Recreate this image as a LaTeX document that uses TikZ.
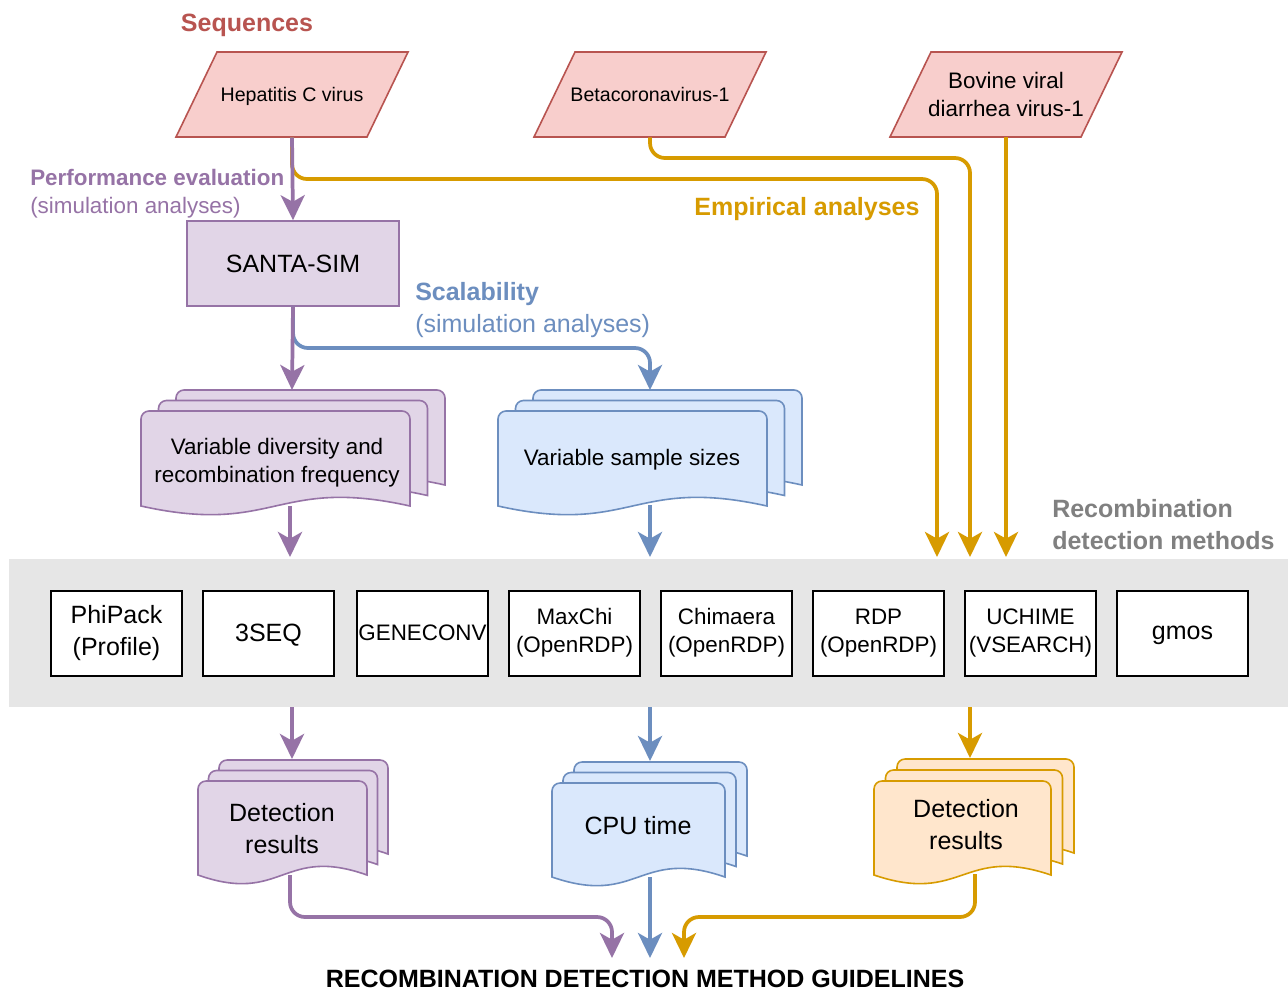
\documentclass[tikz,border=0pt]{standalone}
\usepackage{fontspec}
\setmainfont{Liberation Sans}
\usetikzlibrary{arrows.meta}
\definecolor{pinkF}{HTML}{F8CECC}
\definecolor{pinkD}{HTML}{B85450}
\definecolor{purpF}{HTML}{E1D5E7}
\definecolor{purpD}{HTML}{9673A6}
\definecolor{blueF}{HTML}{DAE8FC}
\definecolor{blueD}{HTML}{6C8EBF}
\definecolor{oranF}{HTML}{FFE6CC}
\definecolor{oranD}{HTML}{D79B00}
\definecolor{bandG}{HTML}{E6E6E6}
\definecolor{textG}{HTML}{808080}
\newcommand\myL{\fontsize{18.75pt}{24pt}\selectfont}
\newcommand\myM{\fontsize{16.8pt}{21pt}\selectfont}
\newcommand\myS{\fontsize{14.7pt}{21pt}\selectfont}
% one page of a multi-document: style, x, y, w, h
\newcommand\docpage[5]{\path[#1] (#2,#3+#5) -- (#2,#3+8) arc[start angle=180,end angle=270,radius=8] -- (#2+#4-8,#3) arc[start angle=270,end angle=360,radius=8] -- (#2+#4,#3+#5) .. controls (#2+0.5*#4,#3+#5-30) and (#2+0.5*#4,#3+#5+30) .. (#2,#3+#5) -- cycle;}
\newcommand\multidoc[7]{%
  \docpage{#1}{#2+2*#6}{#3-2*#7}{#4}{#5}%
  \docpage{#1}{#2+#6}{#3-#7}{#4}{#5}%
  \docpage{#1}{#2}{#3}{#4}{#5}}
\newcommand\para[2]{\path[#1] (#2-116,137) -- (#2+75,137) -- (#2+116,52) -- (#2-75,52) -- cycle;}
\begin{document}
\begin{tikzpicture}[x=0.75pt,y=-0.75pt,
  txt/.style={inner sep=0pt, align=center, text=black},
  partxt/.style={txt, minimum width=110pt, minimum height=63.75pt},
  parashape/.style={draw=pinkD, fill=pinkF, line width=1.2pt},
  purpledoc/.style={draw=purpD, fill=purpF, line width=1.2pt},
  bluedoc/.style={draw=blueD, fill=blueF, line width=1.2pt},
  orangedoc/.style={draw=oranD, fill=oranF, line width=1.2pt},
  methodbox/.style={draw=black, fill=white, line width=1.5pt, minimum width=98.25pt, minimum height=63.75pt, inner sep=0pt, align=center, font=\myM},
  arr/.style={line width=2.8pt, line join=round, -{Stealth[length=18.75pt,width=18pt,inset=5pt]}},
  corner/.style={rounded corners=11.25pt},
  lbl/.style={inner sep=0pt, anchor=base west},
]
\useasboundingbox (0,0) rectangle (1288,990);
\fill[white] (0,0) rectangle (1288,990);

% band
\node[fill=bandG, inner sep=0pt, minimum width=959.25pt, minimum height=111pt, anchor=north west] (band) at (9,559) {};

% sequences
\para{parashape}{292}
\para{parashape}{650}
\para{parashape}{1006}
\node[partxt, font=\myS, text depth=0pt] (hcv) at (292,94.5) {Hepatitis C virus};
\node[partxt, font=\myS] (beta) at (650,94.5) {Betacoronavirus-1};
\node[partxt, font=\myM] (bov) at (1006,94.5) {Bovine viral\\diarrhea virus-1};

% SANTA-SIM
\node[draw=purpD, fill=purpF, line width=1.2pt, minimum width=159pt, minimum height=63.75pt, font=\myL] (santa) at (293,263.5) {SANTA-SIM};

% documents
\multidoc{purpledoc}{141}{411}{269}{95}{17.5}{10.5}
\multidoc{bluedoc}{498}{411}{269}{95}{17.5}{10.5}
\multidoc{purpledoc}{198}{781}{169}{94}{10.5}{10.5}
\multidoc{bluedoc}{552}{783}{173}{94}{11}{10.5}
\multidoc{orangedoc}{874}{781}{177}{94}{11.5}{11}
\node[txt, font=\myM] (vd) at (277,463) {Variable diversity and\\recombination frequency};
\node[txt, font=\myM] (vs) at (632,460) {Variable sample sizes};
\node[txt, font=\myL] (dr1) at (282,829) {Detection\\results};
\node[txt, font=\myL] (cpu) at (638,826) {CPU time};
\node[txt, font=\myL] (dr2) at (966,825) {Detection\\results};

% methods
\node[methodbox, font=\myL] (m1) at (116.5,633) {PhiPack\\(Profile)};
\node[methodbox, font=\myL, text depth=0pt] (m2) at (268.5,633) {3SEQ};
\node[methodbox] (m3) at (422.5,633) {GENECONV};
\node[methodbox] (m4) at (574.5,633) {MaxChi\\(OpenRDP)};
\node[methodbox] (m5) at (726.5,633) {Chimaera\\(OpenRDP)};
\node[methodbox] (m6) at (878.5,633) {RDP\\(OpenRDP)};
\node[methodbox] (m7) at (1030.5,633) {UCHIME\\(VSEARCH)};
\node[methodbox, font=\myL, text depth=0pt] (m8) at (1182.5,633) {gmos};

% connector end points
\coordinate (e1) at (937,557);
\coordinate (e2) at (970,557);
\coordinate (e3) at (1006,557);
\coordinate (vdt) at (292,390);
\coordinate (vst) at (650,390);
\coordinate (vdb) at (290,506);
\coordinate (vsb) at (650,505);
\coordinate (p1) at (290,557);
\coordinate (b1) at (650,557);
\coordinate (pb) at (292,707);
\coordinate (bb) at (650,707);
\coordinate (ob) at (970,707);
\coordinate (dr1t) at (292,759);
\coordinate (cput) at (650,761);
\coordinate (dr2t) at (970,758);
\coordinate (dr1b) at (290,875);
\coordinate (cpub) at (650,877);
\coordinate (dr2b) at (975,874);
\coordinate (g1) at (612,958);
\coordinate (g2) at (650,958);
\coordinate (g3) at (684,958);

% connectors
\draw[arr, oranD, corner] (hcv.south) |- (937,179) -- (e1);
\draw[arr, oranD, corner] (beta.south) |- (970,158) -- (e2);
\draw[arr, oranD] (bov.south) -- (e3);
\draw[arr, purpD] (hcv.south) -- (santa.north);
\draw[arr, blueD, corner] (santa.south) |- (650,348) -- (vst);
\draw[arr, purpD] (santa.south) -- (vdt);
\draw[arr, purpD] (vdb) -- (p1);
\draw[arr, blueD] (vsb) -- (b1);
\draw[arr, purpD] (pb) -- (dr1t);
\draw[arr, blueD] (bb) -- (cput);
\draw[arr, oranD] (ob) -- (dr2t);
\draw[arr, purpD, corner] (dr1b) |- (612,917) -- (g1);
\draw[arr, blueD] (cpub) -- (g2);
\draw[arr, oranD, corner] (dr2b) |- (684,917) -- (g3);

% labels
\node[inner sep=0pt, anchor=base, text=pinkD, font=\myL\bfseries] (lseq) at (247,31) {Sequences};
\node[lbl, text=purpD, font=\myM\bfseries] (lpe) at (30,185) {Performance evaluation};
\node[lbl, text=purpD, font=\myM] (lpe2) at (30,213) {(simulation analyses)};
\node[inner sep=0pt, anchor=base, text=oranD, font=\myL\bfseries] (lemp) at (807,215) {Empirical analyses};
\node[lbl, text=blueD, font=\myL\bfseries] (lsc) at (415,300) {Scalability};
\node[lbl, text=blueD, font=\myL] (lsc2) at (415,332) {(simulation analyses)};
\node[lbl, text=textG, font=\myL\bfseries] (lrec) at (1052,517) {Recombination};
\node[lbl, text=textG, font=\myL\bfseries] (lrec2) at (1052,549) {detection methods};
\node[inner sep=0pt, anchor=base, text=black, font=\myL\bfseries] (title) at (645,987) {RECOMBINATION DETECTION METHOD GUIDELINES};
\end{tikzpicture}
\end{document}
